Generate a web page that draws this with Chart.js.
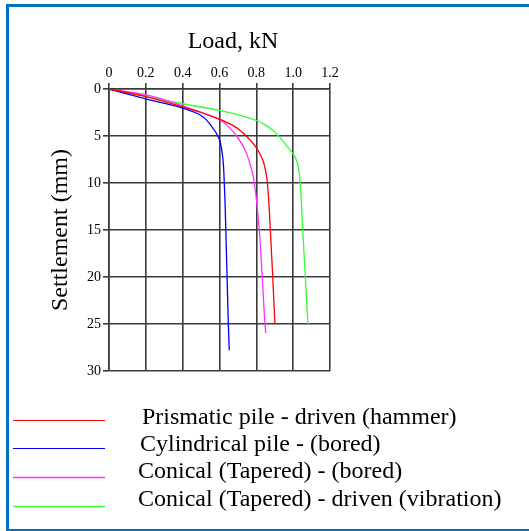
<!DOCTYPE html>
<html>
<head>
<meta charset="utf-8">
<title>Load settlement</title>
<script src="https://cdn.jsdelivr.net/npm/chart.js@4/dist/chart.umd.min.js"></script>
<style>
  html, body { margin: 0; padding: 0; background: #fff; }
  canvas { display: block; }
</style>
</head>
<body>
<canvas id="pileChart" width="529" height="531"></canvas>
<script>
// Tick labels
const loadTicks = ["0", "0.2", "0.4", "0.6", "0.8", "1.0", "1.2"];
const settleTicks = ["0", "5", "10", "15", "20", "25", "30"];

// Prismatic pile - driven (hammer)
const prismaticLoad = [0, 0.2, 0.4, 0.5, 0.6, 0.684, 0.745, 0.795, 0.834, 0.853, 0.86, 0.876, 0.889, 0.901];
const prismaticSettle = [0, 0.8, 1.9, 2.5, 3.2, 4.0, 5.0, 6.1, 7.5, 9.0, 10, 15, 20, 25];

// Cylindrical pile - (bored)
const cylLoad = [0, 0.2, 0.4, 0.494, 0.557, 0.597, 0.617, 0.626, 0.637, 0.648, 0.653];
const cylSettle = [0, 1.05, 2.03, 2.74, 3.98, 5.23, 7.2, 10, 17, 25, 27.8];

// Conical (Tapered) - (bored)
const conBoredLoad = [0, 0.22, 0.4, 0.6, 0.657, 0.693, 0.738, 0.775, 0.789, 0.816, 0.832, 0.847, 0.851];
const conBoredSettle = [0, 0.7, 1.8, 3.27, 4.16, 5.0, 6.47, 8.6, 10, 15, 20, 25, 25.95];

// Conical (Tapered) - driven (vibration)
const conVibLoad = [0, 0.2, 0.4, 0.6, 0.8, 0.855, 0.895, 0.93, 0.963, 1.0, 1.022, 1.033, 1.038, 1.052, 1.066, 1.08];
const conVibSettle = [0, 0.78, 1.57, 2.28, 3.34, 3.9, 4.5, 5.2, 6.0, 6.9, 7.8, 9.0, 10, 15, 20, 25];

const seriesNames = [
  "Prismatic pile - driven (hammer)",
  "Cylindrical pile - (bored)",
  "Conical (Tapered) - (bored)",
  "Conical (Tapered) - driven (vibration)"
];
const seriesColors = ["#ff0000", "#0000ff", "#ff33ff", "#33ff33"];

const serif = "'Liberation Serif', 'Times New Roman', serif";

function toPoints(xs, ys) {
  return xs.map((x, i) => ({ x: x, y: ys[i] }));
}

// border, x title and the legend under the plot
const extras = {
  id: "extras",
  beforeDraw(chart) {
    const ctx = chart.ctx;
    ctx.save();
    ctx.fillStyle = "#fff";
    ctx.fillRect(0, 0, chart.width, chart.height);
    ctx.fillStyle = "#0070c0";
    ctx.fillRect(6, 4, 3, 527);
    ctx.fillRect(6, 4, 523, 3);
    ctx.fillRect(6, 529, 523, 2);
    ctx.restore();
  },
  afterDraw(chart) {
    const ctx = chart.ctx;
    ctx.save();
    ctx.fillStyle = "#000";
    ctx.font = "24px " + serif;
    ctx.textAlign = "center";
    ctx.textBaseline = "alphabetic";
    ctx.fillText("Load, kN", 233, 48);

    const lineY = [420.5, 448.5, 477.5, 506.5];
    const textX = [142, 140, 138, 138];
    const textY = [424, 451, 477.5, 505.5];
    const widths = [1, 1, 1.6, 1.6];
    ctx.textAlign = "left";
    seriesNames.forEach((name, i) => {
      ctx.strokeStyle = seriesColors[i];
      ctx.lineWidth = widths[i];
      ctx.beginPath();
      ctx.moveTo(13, lineY[i]);
      ctx.lineTo(105, lineY[i]);
      ctx.stroke();
      ctx.fillText(name, textX[i], textY[i]);
    });
    ctx.restore();
  }
};

const ctx = document.getElementById("pileChart").getContext("2d");
new Chart(ctx, {
  type: "line",
  data: {
    datasets: [
      { label: seriesNames[0], data: toPoints(prismaticLoad, prismaticSettle), borderColor: seriesColors[0] },
      { label: seriesNames[1], data: toPoints(cylLoad, cylSettle), borderColor: seriesColors[1] },
      { label: seriesNames[2], data: toPoints(conBoredLoad, conBoredSettle), borderColor: seriesColors[2] },
      { label: seriesNames[3], data: toPoints(conVibLoad, conVibSettle), borderColor: seriesColors[3] }
    ]
  },
  options: {
    responsive: false,
    animation: false,
    indexAxis: "y",
    elements: {
      line: { borderWidth: 1.3, cubicInterpolationMode: "monotone", fill: false },
      point: { radius: 0 }
    },
    layout: { padding: { left: 0, top: 0, right: 199, bottom: 160 } },
    plugins: {
      legend: { display: false },
      tooltip: { enabled: false }
    },
    scales: {
      x: {
        type: "linear",
        position: "top",
        min: 0,
        max: 1.2,
        afterBuildTicks: (s) => { s.ticks = loadTicks.map(v => ({ value: parseFloat(v) })); },
        afterFit: (s) => { s.height = 89; },
        ticks: {
          callback: (v, i) => loadTicks[i],
          color: "#000",
          font: { family: serif, size: 14 },
          padding: 1,
          maxRotation: 0
        },
        grid: { color: "#3a3a3a", lineWidth: 1.6, tickLength: 6 },
        border: { color: "#3a3a3a", width: 1.6 }
      },
      y: {
        type: "linear",
        position: "left",
        reverse: true,
        min: 0,
        max: 30,
        afterBuildTicks: (s) => { s.ticks = settleTicks.map(v => ({ value: parseFloat(v) })); },
        afterFit: (s) => { s.width = 109; },
        ticks: {
          callback: (v, i) => settleTicks[i],
          color: "#000",
          font: { family: serif, size: 14 },
          padding: 2
        },
        grid: { color: "#3a3a3a", lineWidth: 1.6, tickLength: 6 },
        border: { color: "#3a3a3a", width: 1.6 },
        title: {
          display: true,
          text: "Settlement (mm)",
          color: "#000",
          font: { family: serif, size: 24, weight: "normal" },
          padding: { top: 46, bottom: 0 }
        }
      }
    }
  },
  plugins: [extras]
});
</script>
</body>
</html>
